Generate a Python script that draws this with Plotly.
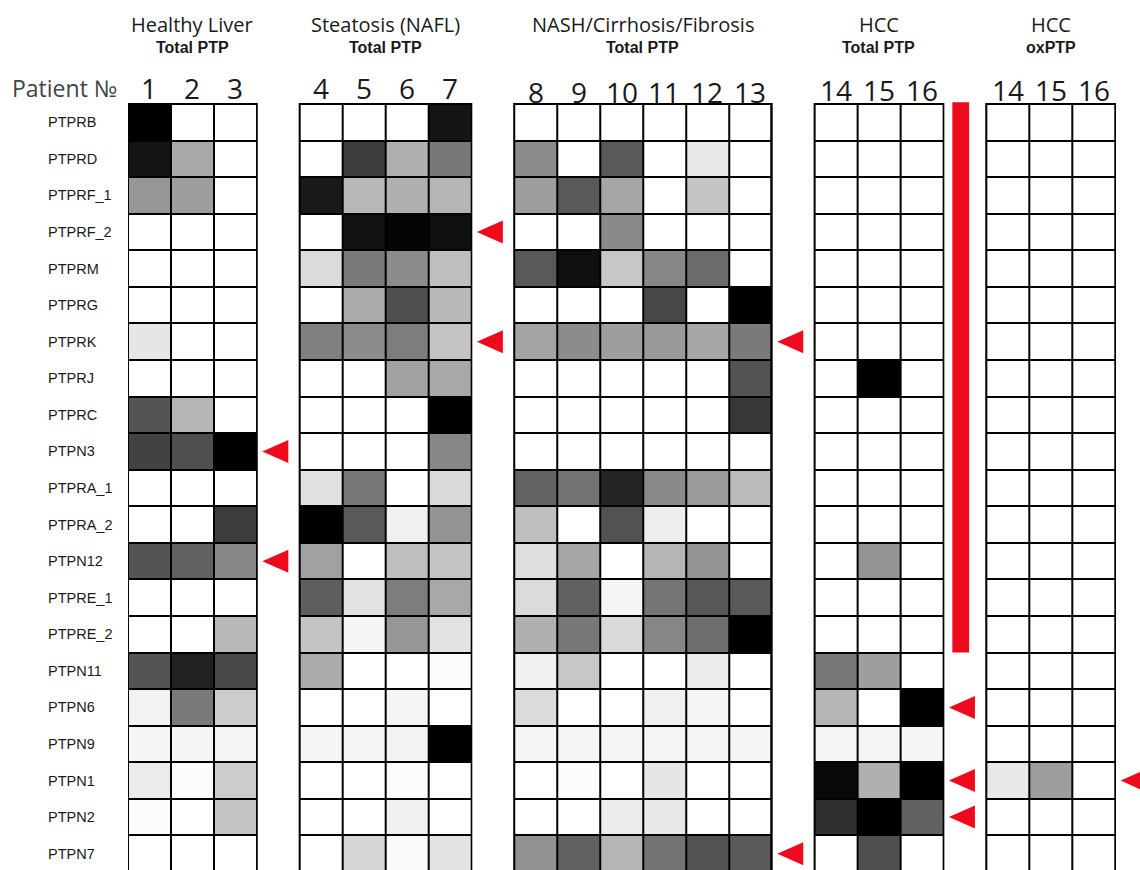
import plotly.graph_objects as go

# ---------------- data ----------------
genes = ["PTPRB", "PTPRD", "PTPRF_1", "PTPRF_2", "PTPRM", "PTPRG", "PTPRK",
         "PTPRJ", "PTPRC", "PTPN3", "PTPRA_1", "PTPRA_2", "PTPN12", "PTPRE_1",
         "PTPRE_2", "PTPN11", "PTPN6", "PTPN9", "PTPN1", "PTPN2", "PTPN7"]

panel_titles = ["Healthy Liver", "Steatosis (NAFL)", "NASH/Cirrhosis/Fibrosis", "HCC", "HCC"]
panel_subtitles = ["Total PTP", "Total PTP", "Total PTP", "Total PTP", "oxPTP"]
panel_patients = [["1", "2", "3"], ["4", "5", "6", "7"],
                  ["8", "9", "10", "11", "12", "13"],
                  ["14", "15", "16"], ["14", "15", "16"]]

# relative signal (0 = white, 1 = black), rows follow `genes`
healthy = [
    [1.00, 0.00, 0.00], [0.92, 0.34, 0.00], [0.41, 0.38, 0.00], [0.00, 0.00, 0.00],
    [0.00, 0.00, 0.00], [0.00, 0.00, 0.00], [0.10, 0.00, 0.00], [0.00, 0.00, 0.00],
    [0.67, 0.29, 0.00], [0.74, 0.69, 1.00], [0.00, 0.00, 0.00], [0.00, 0.00, 0.76],
    [0.67, 0.62, 0.47], [0.00, 0.00, 0.00], [0.00, 0.00, 0.28], [0.67, 0.87, 0.72],
    [0.05, 0.52, 0.20], [0.04, 0.04, 0.04], [0.08, 0.01, 0.20], [0.01, 0.00, 0.23],
    [0.00, 0.00, 0.00],
]
steatosis = [
    [0.00, 0.00, 0.00, 0.92], [0.00, 0.76, 0.31, 0.53], [0.90, 0.28, 0.31, 0.29],
    [0.00, 0.93, 0.98, 0.94], [0.14, 0.52, 0.45, 0.25], [0.00, 0.33, 0.69, 0.28],
    [0.50, 0.45, 0.51, 0.23], [0.00, 0.00, 0.37, 0.34], [0.00, 0.00, 0.00, 1.00],
    [0.00, 0.00, 0.00, 0.47], [0.12, 0.53, 0.00, 0.15], [1.00, 0.65, 0.06, 0.42],
    [0.37, 0.00, 0.25, 0.23], [0.63, 0.11, 0.51, 0.34], [0.23, 0.04, 0.41, 0.11],
    [0.33, 0.00, 0.00, 0.01], [0.00, 0.00, 0.04, 0.00], [0.04, 0.04, 0.05, 1.00],
    [0.00, 0.00, 0.01, 0.00], [0.00, 0.00, 0.06, 0.00], [0.00, 0.16, 0.02, 0.11],
]
nash = [
    [0.00, 0.00, 0.00, 0.00, 0.00, 0.00], [0.45, 0.00, 0.65, 0.00, 0.09, 0.00],
    [0.38, 0.65, 0.35, 0.00, 0.23, 0.00], [0.00, 0.00, 0.46, 0.00, 0.00, 0.00],
    [0.65, 0.94, 0.22, 0.47, 0.58, 0.00], [0.00, 0.00, 0.00, 0.72, 0.00, 1.00],
    [0.36, 0.45, 0.38, 0.40, 0.35, 0.52], [0.00, 0.00, 0.00, 0.00, 0.00, 0.68],
    [0.00, 0.00, 0.00, 0.00, 0.00, 0.78], [0.00, 0.00, 0.00, 0.00, 0.00, 0.00],
    [0.61, 0.55, 0.86, 0.46, 0.39, 0.27], [0.25, 0.00, 0.68, 0.07, 0.00, 0.00],
    [0.13, 0.35, 0.00, 0.29, 0.42, 0.00], [0.14, 0.62, 0.04, 0.54, 0.66, 0.65],
    [0.31, 0.53, 0.15, 0.47, 0.57, 1.00], [0.06, 0.22, 0.00, 0.00, 0.08, 0.00],
    [0.14, 0.00, 0.00, 0.06, 0.04, 0.00], [0.04, 0.04, 0.04, 0.04, 0.04, 0.04],
    [0.00, 0.01, 0.00, 0.10, 0.00, 0.00], [0.00, 0.00, 0.08, 0.09, 0.00, 0.00],
    [0.43, 0.62, 0.29, 0.55, 0.68, 0.65],
]
hcc_total = [
    [0.00, 0.00, 0.00], [0.00, 0.00, 0.00], [0.00, 0.00, 0.00], [0.00, 0.00, 0.00],
    [0.00, 0.00, 0.00], [0.00, 0.00, 0.00], [0.00, 0.00, 0.00], [0.00, 1.00, 0.00],
    [0.00, 0.00, 0.00], [0.00, 0.00, 0.00], [0.00, 0.00, 0.00], [0.00, 0.00, 0.00],
    [0.00, 0.42, 0.00], [0.00, 0.00, 0.00], [0.00, 0.00, 0.00], [0.53, 0.38, 0.00],
    [0.29, 0.00, 1.00], [0.04, 0.04, 0.04], [0.97, 0.31, 1.00], [0.81, 1.00, 0.62],
    [0.00, 0.69, 0.00],
]
hcc_ox = [
    [0.00, 0.00, 0.00], [0.00, 0.00, 0.00], [0.00, 0.00, 0.00], [0.00, 0.00, 0.00],
    [0.00, 0.00, 0.00], [0.00, 0.00, 0.00], [0.00, 0.00, 0.00], [0.00, 0.00, 0.00],
    [0.00, 0.00, 0.00], [0.00, 0.00, 0.00], [0.00, 0.00, 0.00], [0.00, 0.00, 0.00],
    [0.00, 0.00, 0.00], [0.00, 0.00, 0.00], [0.00, 0.00, 0.00], [0.00, 0.00, 0.00],
    [0.00, 0.00, 0.00], [0.00, 0.00, 0.00], [0.09, 0.38, 0.00], [0.00, 0.00, 0.00],
    [0.00, 0.00, 0.00],
]
panels = [healthy, steatosis, nash, hcc_total, hcc_ox]

# highlighted rows (panel index, gene) marked with red arrows
arrows = [(0, "PTPN3"), (0, "PTPN12"), (1, "PTPRF_2"), (1, "PTPRK"),
          (2, "PTPRK"), (2, "PTPN7"), (3, "PTPN6"), (3, "PTPN1"),
          (3, "PTPN2"), (4, "PTPN1")]
# red bar next to HCC Total panel spans these genes
bar_genes = ("PTPRB", "PTPRE_2")

# ---------------- layout helpers ----------------
W, H = 1140, 870
OFF = 0  # page body margin (removed via post_script)
ML, MT = 128 - OFF, 102 - OFF
COLW, ROWH = 42.913, 36.57
PLOT_W, PLOT_H = W - ML, H - MT
XR = [-0.5, -0.5 + PLOT_W / COLW]
YTOP = -0.5 - 2 / ROWH
YR = [YTOP + PLOT_H / ROWH, YTOP]


def sy(screen_y):
    f = screen_y - OFF
    return (H - f) / PLOT_H


def sx(screen_x):
    return (screen_x - OFF - ML) / PLOT_W


RED = "#ee0a1c"
nrows = len(genes)
rows = list(range(nrows))

starts = []
s = 0
for p in panels:
    starts.append(s)
    s += len(p[0]) + 1

fig = go.Figure()
shapes = []
annotations = []
num_y = [88, 88, 92, 90, 90]

for i, p in enumerate(panels):
    ncol = len(p[0])
    xs = [starts[i] + c for c in range(ncol)]
    fig.add_trace(go.Heatmap(
        z=p, x=xs, y=rows,
        colorscale=[[0, "#ffffff"], [1, "#000000"]], zmin=0, zmax=1,
        showscale=False, xgap=2, ygap=2, hoverinfo="skip"))
    x0, x1 = starts[i] - 0.5, starts[i] + ncol - 0.5
    shapes.append(dict(type="rect", xref="x", yref="y", x0=x0, x1=x1,
                       y0=-0.5, y1=nrows - 0.5, fillcolor="#000000",
                       line=dict(color="#000000", width=2), layer="below"))
    cx = (x0 + x1) / 2
    annotations.append(dict(x=cx, y=sy(24), xref="x", yref="paper",
                            text=panel_titles[i], showarrow=False,
                            font=dict(family="Open Sans", size=20, color="#1a1a1a"),
                            xanchor="center", yanchor="middle"))
    annotations.append(dict(x=cx, y=sy(47), xref="x", yref="paper",
                            text="<b>" + panel_subtitles[i] + "</b>", showarrow=False,
                            font=dict(family="Liberation Sans", size=16, color="#1a1a1a"),
                            xanchor="center", yanchor="middle"))
    for c, lab in enumerate(panel_patients[i]):
        annotations.append(dict(x=xs[c], y=sy(num_y[i]), xref="x", yref="paper",
                                text=lab, showarrow=False,
                                font=dict(family="Open Sans", size=28, color="#1a1a1a"),
                                xanchor="center", yanchor="middle"))

annotations.append(dict(x=sx(10), y=sy(88), xref="paper", yref="paper",
                        text="Patient №", showarrow=False,
                        font=dict(family="Open Sans", size=23, color="#444444"),
                        xanchor="left", yanchor="middle"))

for r, g in enumerate(genes):
    annotations.append(dict(x=sx(46), y=r, xref="paper", yref="y",
                            text=g, showarrow=False,
                            font=dict(family="Liberation Sans", size=14.5, color="#1a1a1a"),
                            xanchor="left", yanchor="middle"))

# red arrows (triangles pointing left)
tx, ty = [], []
AW, AH = 26 / COLW, 23 / ROWH
for pi, g in arrows:
    r = genes.index(g)
    tip = starts[pi] + len(panels[pi][0]) - 0.5 + 0.13
    tx += [tip, tip + AW, tip + AW, tip, None]
    ty += [r, r - AH / 2, r + AH / 2, r, None]
fig.add_trace(go.Scatter(x=tx, y=ty, mode="lines", fill="toself",
                         fillcolor=RED, line=dict(width=0, color=RED),
                         hoverinfo="skip", showlegend=False))

# red bar
e4 = starts[3] + len(panels[3][0]) - 0.5
shapes.append(dict(type="rect", xref="x", yref="y", x0=e4 + 0.21, x1=e4 + 0.6,
                   y0=genes.index(bar_genes[0]) - 0.55, y1=genes.index(bar_genes[1]) + 0.5,
                   fillcolor=RED, line=dict(width=0), layer="above"))

fig.update_layout(
    width=W, height=H,
    margin=dict(l=ML, r=0, t=MT, b=0, pad=0),
    paper_bgcolor="white", plot_bgcolor="white",
    showlegend=False,
    shapes=shapes, annotations=annotations,
    xaxis=dict(range=XR, visible=False, fixedrange=True),
    yaxis=dict(range=YR, visible=False, fixedrange=True),
)

fig.write_html("out.html",
               config={"displayModeBar": False},
               post_script="document.body.style.margin='0';"
                           "document.body.style.overflow='hidden';")
